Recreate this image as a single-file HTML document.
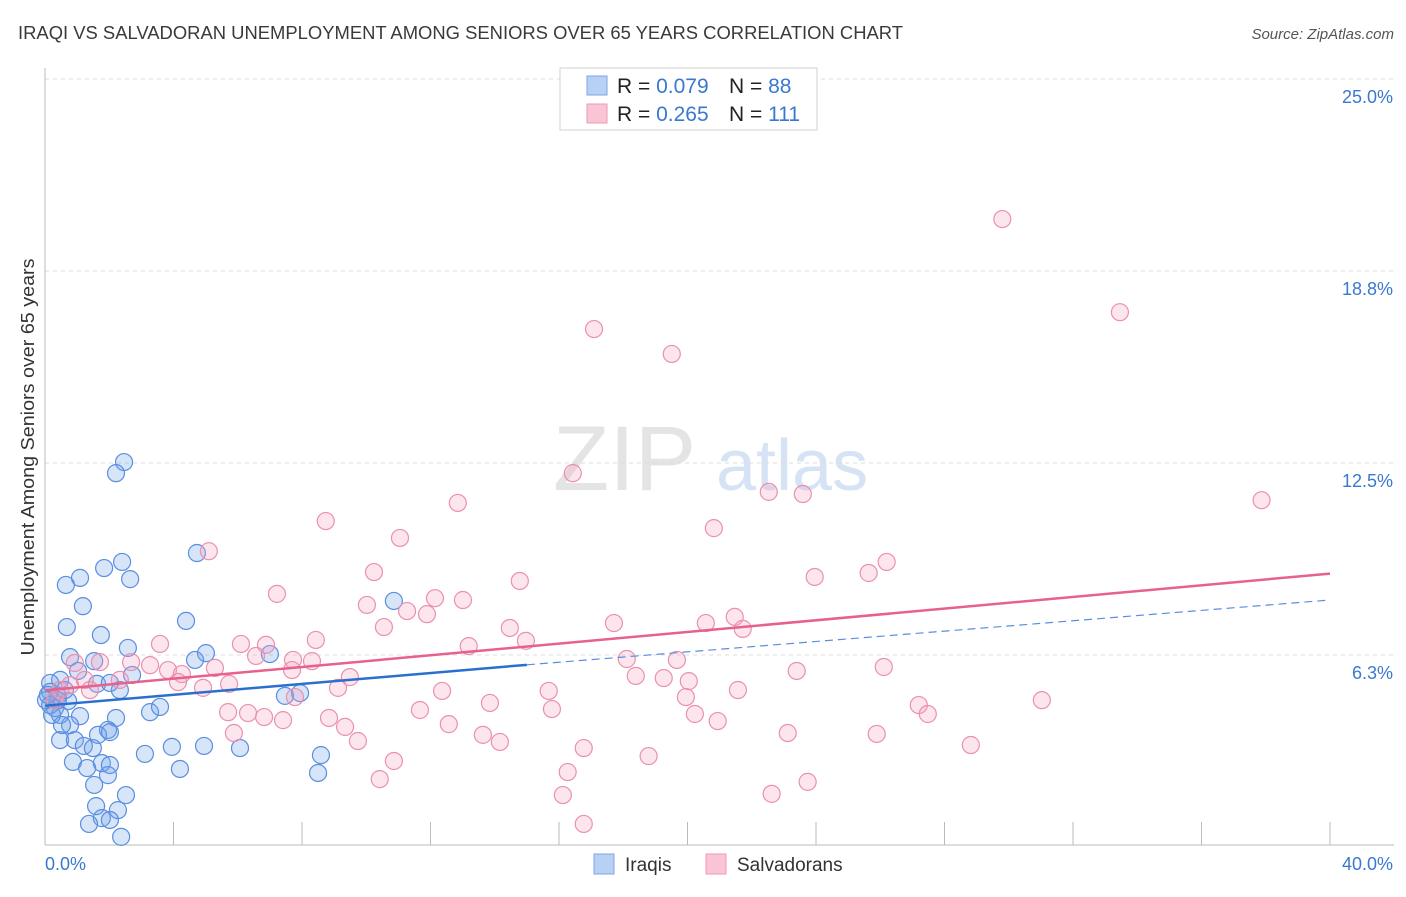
<!DOCTYPE html>
<html><head><meta charset="utf-8"><style>
html,body{margin:0;padding:0;background:#fff;}
body{width:1406px;height:892px;overflow:hidden;font-family:"Liberation Sans",sans-serif;}
svg text{font-family:"Liberation Sans",sans-serif;}
</style></head><body>
<svg id="chart" width="1406" height="892">
<text x="18" y="39" font-size="18" textLength="885" lengthAdjust="spacingAndGlyphs" fill="#3a3a3a">IRAQI VS SALVADORAN UNEMPLOYMENT AMONG SENIORS OVER 65 YEARS CORRELATION CHART</text>
<text x="1394" y="39" font-size="15" font-style="italic" fill="#555" text-anchor="end">Source: ZipAtlas.com</text>
<g>
<text x="553" y="490" font-size="92" font-family="Liberation Serif,serif" fill="#e4e4e4">ZIP</text>
<text x="716" y="490" font-size="72" fill="#d6e3f5">atlas</text>
</g>
<g id="grid"></g>
<g id="axes"></g>
<g id="points"></g>
<g id="lines"></g>
<text transform="translate(34,457) rotate(-90)" font-size="18" textLength="397" lengthAdjust="spacingAndGlyphs" fill="#333" text-anchor="middle">Unemployment Among Seniors over 65 years</text>
<g>
<rect x="560" y="68" width="257" height="62" fill="#fff" stroke="#d0d0d0"/>
<rect x="587" y="76" width="20" height="19" fill="#b8d0f4" stroke="#7aa6e6"/>
<rect x="587" y="104" width="20" height="19" fill="#f9c4d4" stroke="#ee9ab6"/>
<text x="617" y="93" font-size="21" fill="#222">R = <tspan fill="#3a78d0">0.079</tspan></text>
<text x="729" y="93" font-size="21" fill="#222">N = <tspan fill="#3a78d0">88</tspan></text>
<text x="617" y="121" font-size="21" fill="#222">R = <tspan fill="#3a78d0">0.265</tspan></text>
<text x="729" y="121" font-size="21" fill="#222">N = <tspan fill="#3a78d0">111</tspan></text>
</g>
<g>
<rect x="594" y="854" width="20" height="20" fill="#b8d0f4" stroke="#7aa6e6"/>
<text x="625" y="871" font-size="19" fill="#333">Iraqis</text>
<rect x="706" y="854" width="20" height="20" fill="#f9c4d4" stroke="#ee9ab6"/>
<text x="737" y="871" font-size="19" fill="#333">Salvadorans</text>
</g>
</svg>
<script>
const yTicks=[25,18.75,12.5,6.25];
const yTickLabels=["25.0%","18.8%","12.5%","6.3%"];
const xTickVals=[0,4,8,12,16,20,24,28,32,36,40];
const xEndLabels=["0.0%","40.0%"];
const iraqiX=[2.46,2.21,4.73,2.40,1.84,2.65,1.09,0.65,1.18,0.68,1.74,4.39,2.58,5.01,7.00,10.86,0.78,1.53,1.03,2.33,2.71,0.47,0.16,1.62,2.02,0.16,0.40,0.03,0.31,0.72,1.09,0.47,2.21,1.96,0.78,0.47,0.93,1.21,1.49,1.65,2.02,3.27,3.58,3.95,4.95,4.20,6.07,3.11,7.47,7.94,8.59,8.50,0.87,1.31,1.77,1.96,2.02,1.53,1.59,2.52,2.27,1.77,2.02,1.37,2.37,0.40,0.16,0.22,0.53,4.67,0.09,0.62];
const iraqiY=[12.53,12.17,9.57,9.28,9.08,8.72,8.76,8.53,7.84,7.16,6.90,7.36,6.48,6.31,6.28,8.01,6.18,6.05,5.73,5.11,5.60,5.44,5.34,5.31,5.34,5.05,4.92,4.78,4.52,4.75,4.26,4.30,4.20,3.81,3.97,3.48,3.48,3.29,3.22,3.65,3.74,4.39,4.56,3.26,3.29,2.54,3.22,3.03,4.92,5.01,2.99,2.41,2.77,2.57,2.73,2.34,2.67,2.02,1.33,1.69,1.20,0.94,0.88,0.75,0.33,4.78,4.62,4.30,3.97,6.09,4.95,5.11];
const salvX=[29.8,33.46,17.09,19.51,16.43,12.85,22.53,23.59,37.87,8.74,20.82,11.05,5.10,26.20,25.64,10.24,23.96,14.78,7.22,12.14,13.01,10.02,11.27,11.89,21.47,17.71,20.57,21.72,14.47,10.55,3.58,6.10,6.88,8.43,13.19,14.97,6.57,8.31,7.72,18.11,19.67,26.11,23.40,9.49,7.69,5.29,3.83,4.26,2.68,1.71,3.27,0.93,18.39,19.26,20.04,15.68,12.36,9.12,7.78,5.73,4.92,4.14,2.33,21.57,19.95,13.85,15.78,11.67,5.70,6.32,6.82,7.41,27.20,27.48,31.03,20.23,20.94,8.84,9.34,12.57,5.88,23.12,25.89,13.63,14.16,9.74,16.77,28.82,18.79,10.86,16.27,10.42,23.74,16.12,22.62,16.77,0.47,0.31,0.78,1.24,1.40];
const salvY=[20.44,17.41,16.86,16.05,12.17,11.20,11.56,11.49,11.29,10.61,10.38,10.06,9.63,9.28,8.92,8.95,8.79,8.66,8.24,8.10,8.04,7.88,7.68,7.58,7.49,7.29,7.29,7.10,7.13,7.16,6.61,6.61,6.58,6.74,6.54,6.71,6.22,6.05,6.09,6.12,6.09,5.86,5.73,5.53,5.76,5.83,5.76,5.63,6.02,6.02,5.92,5.99,5.57,5.50,5.40,5.08,5.08,5.18,4.88,5.31,5.18,5.37,5.44,5.11,4.88,4.69,4.49,4.46,4.39,4.36,4.23,4.13,4.62,4.33,4.78,4.33,4.10,4.20,3.91,4.00,3.71,3.71,3.68,3.65,3.42,3.45,3.22,3.32,2.96,2.80,2.44,2.21,2.12,1.69,1.73,0.75,5.11,4.78,5.27,5.44,5.11];
const iraqiLine=[0,4.6,15,5.93,40,8.04];
const salvLine=[0,5.1,40,8.9];

const NS="http://www.w3.org/2000/svg";
const xs=v=>45+v*32.125;
const ys=v=>847-v*30.72;
function mk(tag,attrs,parent){const e=document.createElementNS(NS,tag);for(const k in attrs)e.setAttribute(k,attrs[k]);parent.appendChild(e);return e;}
const grid=document.getElementById('grid'),axes=document.getElementById('axes'),pts=document.getElementById('points'),lines=document.getElementById('lines');
let g=mk('line',{x1:45,x2:1394,y1:79,y2:79,stroke:'#ddd','stroke-dasharray':'4,4'},grid);


yTicks.forEach((t,i)=>{
 const l=mk('line',{x1:45,x2:1394,y1:ys(t),y2:ys(t),stroke:'#ddd','stroke-dasharray':'4,4'},grid);
 
 
 const tx=mk('text',{x:1393,y:ys(t)+24,'font-size':18,fill:'#3a78d0','text-anchor':'end'},axes);
 tx.textContent=yTickLabels[i];
 
 
});
let a=mk('line',{x1:45,x2:45,y1:68,y2:845,stroke:'#bbb'},axes);


a=mk('line',{x1:45,x2:1394,y1:845,y2:845,stroke:'#bbb'},axes);


xTickVals.forEach(v=>{
 const t=mk('line',{x1:xs(v),x2:xs(v),y1:822,y2:845,stroke:'#bbb'},axes);
 
 
});
let xl=mk('text',{x:45,y:870,'font-size':18,fill:'#3a78d0'},axes);xl.textContent=xEndLabels[0];


xl=mk('text',{x:1393,y:870,'font-size':18,fill:'#3a78d0','text-anchor':'end'},axes);xl.textContent=xEndLabels[1];


iraqiX.forEach((x,i)=>{
 const c=mk('circle',{cx:xs(x),cy:ys(iraqiY[i]),r:8.5,fill:'rgba(110,160,235,0.28)',stroke:'#5a8ee0','stroke-width':1.2},pts);
 
 
});
salvX.forEach((x,i)=>{
 const c=mk('circle',{cx:xs(x),cy:ys(salvY[i]),r:8.5,fill:'rgba(245,160,190,0.28)',stroke:'#ea90b0','stroke-width':1.2},pts);
 
 
});
let ln=mk('line',{x1:xs(salvLine[0]),y1:ys(salvLine[1]),x2:xs(salvLine[2]),y2:ys(salvLine[3]),stroke:'#e8608c','stroke-width':2.5},lines);


ln=mk('line',{x1:xs(iraqiLine[0]),y1:ys(iraqiLine[1]),x2:xs(iraqiLine[2]),y2:ys(iraqiLine[3]),stroke:'#2a6fd0','stroke-width':2.5},lines);


ln=mk('line',{x1:xs(iraqiLine[2]),y1:ys(iraqiLine[3]),x2:xs(iraqiLine[4]),y2:ys(iraqiLine[5]),stroke:'#5a8ee0','stroke-width':1.2,'stroke-dasharray':'8,5'},lines);


</script>
</body></html>
